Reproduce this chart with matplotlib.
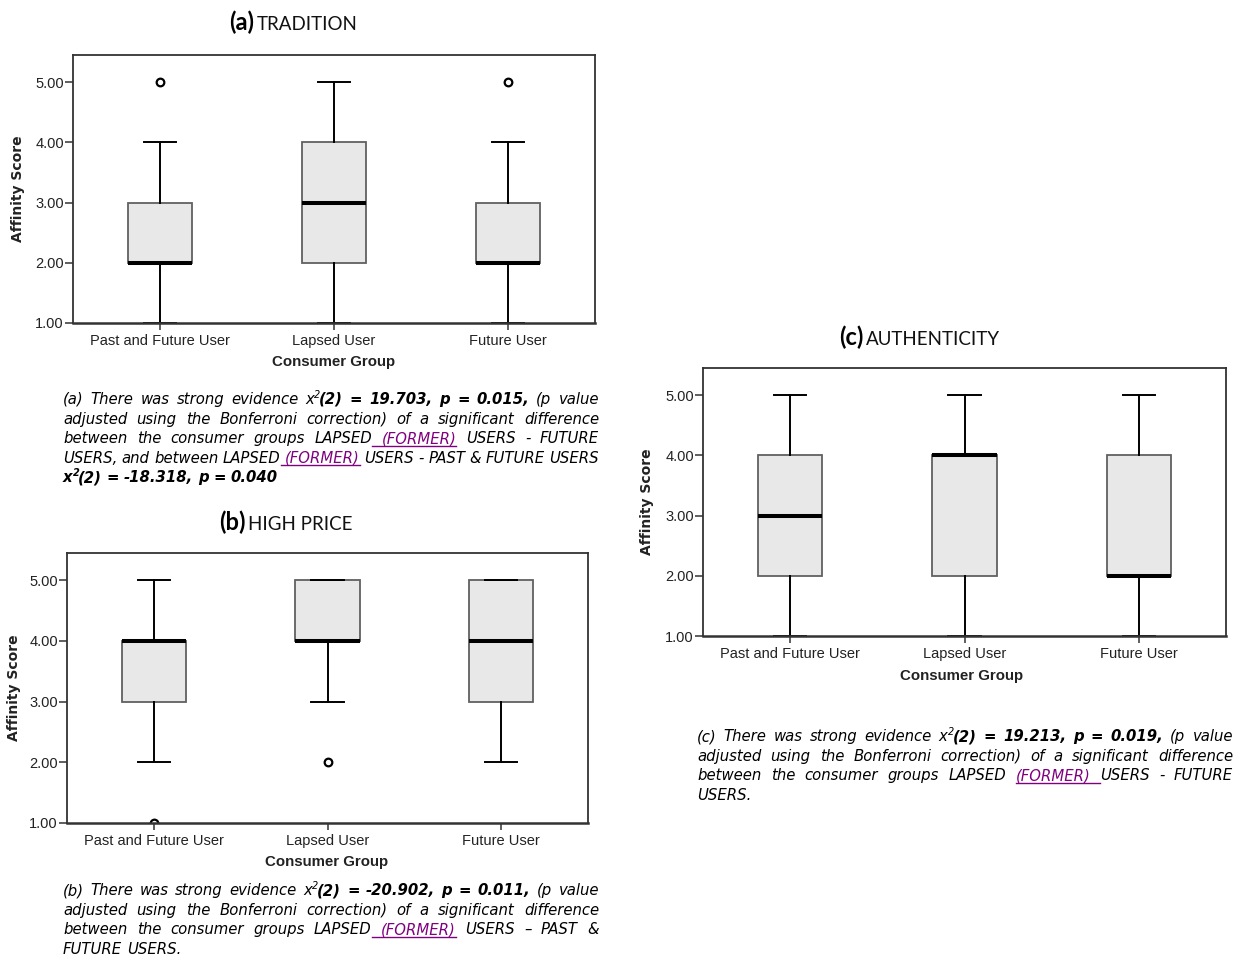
import matplotlib
matplotlib.use("Agg")
import matplotlib.pyplot as plt
from matplotlib.lines import Line2D

# ---------------- data ----------------
groups = ["Past and Future User", "Lapsed User", "Future User"]
y_ticks = [1, 2, 3, 4, 5]
y_tick_labels = ["1.00", "2.00", "3.00", "4.00", "5.00"]

# (a) TRADITION
trad_q1 = [2, 2, 2]
trad_med = [2, 3, 2]
trad_q3 = [3, 4, 3]
trad_lo = [1, 1, 1]
trad_hi = [4, 5, 4]
trad_fliers = [[5], [], [5]]

# (b) HIGH PRICE
price_q1 = [3, 4, 3]
price_med = [4, 4, 4]
price_q3 = [4, 5, 5]
price_lo = [2, 3, 2]
price_hi = [5, 5, 5]
price_fliers = [[1], [2], []]

# (c) AUTHENTICITY
auth_q1 = [2, 2, 2]
auth_med = [3, 4, 2]
auth_q3 = [4, 4, 4]
auth_lo = [1, 1, 1]
auth_hi = [5, 5, 5]
auth_fliers = [[], [], []]

W, H = 1238, 956
fig = plt.figure(figsize=(W / 100, H / 100), dpi=100)


def fx(x):
    return x / W


def fy(y):
    return 1 - y / H


TICK_FONT = "Liberation Sans"
CAP_FONT = "DejaVu Sans"
TITLE_FONT = "Lato"


def make_stats(q1, med, q3, lo, hi, fl):
    return [dict(q1=a, med=b, q3=c, whislo=d, whishi=e, fliers=f, label=g)
            for a, b, c, d, e, f, g in zip(q1, med, q3, lo, hi, fl, groups)]


def panel(box_px, stats, ylab_xy, xlab_xy):
    l, t, r, b = box_px
    ax = fig.add_axes([fx(l), fy(b), (r - l) / W, (b - t) / H])
    ax.bxp(stats, positions=[0, 1, 2], widths=0.37, capwidths=0.185,
           patch_artist=True, showfliers=True,
           boxprops=dict(facecolor="#e8e8e8", edgecolor="#606060", linewidth=1.3),
           medianprops=dict(color="black", linewidth=2.9, solid_capstyle="butt"),
           whiskerprops=dict(color="black", linewidth=1.4),
           capprops=dict(color="black", linewidth=1.4),
           flierprops=dict(marker="o", markerfacecolor="white", markeredgecolor="black",
                           markersize=5.5, markeredgewidth=1.6))
    ax.set_xlim(-0.5, 2.5)
    ax.set_ylim(1, 5.45)
    ax.set_yticks(y_ticks)
    ax.set_yticklabels(y_tick_labels, fontsize=10.5, family=TICK_FONT, color="#222222")
    ax.set_xticks([0, 1, 2])
    ax.set_xticklabels(groups, fontsize=10.5, family=TICK_FONT, color="#222222")
    ax.tick_params(axis="y", direction="out", length=6, width=1.1, pad=0.5, color="#333333")
    ax.tick_params(axis="x", direction="out", length=5, width=1.1, pad=3, color="#333333")
    for s in ax.spines.values():
        s.set_color("#333333")
        s.set_linewidth(1.3)
    ax.spines["bottom"].set_linewidth(1.8)
    fig.text(fx(ylab_xy[0]), fy(ylab_xy[1]), "Affinity Score", rotation=90,
             ha="center", va="center", fontsize=10, fontweight="bold",
             family="DejaVu Sans", color="#222222")
    fig.text(fx(xlab_xy[0]), fy(xlab_xy[1]), "Consumer Group",
             ha="center", va="center", fontsize=10.8, fontweight="bold",
             family=TICK_FONT, color="#222222")
    return ax


panel((73, 55, 595, 323),
      make_stats(trad_q1, trad_med, trad_q3, trad_lo, trad_hi, trad_fliers),
      (18, 189), (334, 362))
panel((67, 553, 588, 823),
      make_stats(price_q1, price_med, price_q3, price_lo, price_hi, price_fliers),
      (14, 688), (327, 862))
panel((703, 368, 1226, 636),
      make_stats(auth_q1, auth_med, auth_q3, auth_lo, auth_hi, auth_fliers),
      (647, 502), (962, 676))

fig.canvas.draw()
renderer = fig.canvas.get_renderer()


def measure(text, **kw):
    t = fig.text(0, 0, text, **kw)
    w = t.get_window_extent(renderer).width
    t.remove()
    return w


# ---------------- titles ----------------
def title(x_left, y_base, tag, name):
    fig.text(fx(x_left), fy(y_base), tag, fontsize=17, fontweight="bold",
             family=TITLE_FONT, ha="left", va="baseline", color="black")
    w = measure(tag, fontsize=17, fontweight="bold", family=TITLE_FONT)
    fig.text(fx(x_left + w + 3), fy(y_base), name, fontsize=13.5, family=TITLE_FONT,
             ha="left", va="baseline", color="#111111")


title(229, 30, "(a)", "TRADITION")
title(219, 530, "(b)", "HIGH PRICE")
title(839, 345, "(c)", "AUTHENTICITY")

# ---------------- justified captions ----------------
CAP_SIZE = 10.7
SUP_SIZE = 7.0
PURPLE = "#800080"


def piece_kw(st):
    kw = dict(family=CAP_FONT, fontstyle="italic", color="black")
    kw["fontsize"] = SUP_SIZE if "s" in st else CAP_SIZE
    if "b" in st:
        kw["fontweight"] = "bold"
    if "u" in st:
        kw["color"] = PURPLE
    return kw


def to_words(runs):
    words = [[]]
    for text, st in runs:
        parts = text.split(" ")
        for k, p in enumerate(parts):
            if k > 0:
                words.append([])
            if p:
                words[-1].append((p, st))
    return [w for w in words if w]


def caption(x0, x1, y0, dy, lines):
    space_w = measure("a a", **piece_kw("")) - 2 * measure("a", **piece_kw(""))
    for i, (runs, justify) in enumerate(lines):
        yb = y0 + i * dy
        words = to_words(runs)
        widths = [[measure(p, **piece_kw(st)) - (1.5 if "s" in st else 0) for p, st in w]
                  for w in words]
        totals = [sum(w) for w in widths]
        if justify and len(words) > 1:
            gap = (x1 - x0 - sum(totals)) / (len(words) - 1)
        else:
            gap = space_w
        x = x0
        for wi, (w, ws) in enumerate(zip(words, widths)):
            xs = x
            for (p, st), pw in zip(w, ws):
                yy = yb - 6 if "s" in st else yb
                fig.text(fx(x), fy(yy), p, ha="left", va="baseline", **piece_kw(st))
                x += pw
            if any("u" in st for _, st in w):
                ul0, ul1 = xs, x
                if any("<" in st for _, st in w):
                    ul0 = xs - gap
                if any(">" in st for _, st in w):
                    ul1 = x + gap
                fig.add_artist(Line2D([fx(ul0), fx(ul1)], [fy(yb + 2.5), fy(yb + 2.5)],
                                      color=PURPLE, linewidth=1.0,
                                      transform=fig.transFigure))
            x += gap


cap_a = [
    ([("(a) There was strong evidence x", ""), ("2", "s"),
      ("(2) = 19.703, p = 0.015,", "b"), (" (p value", "")], True),
    ([("adjusted using the Bonferroni correction) of a significant difference", "")], True),
    ([("between the consumer groups LAPSED ", ""), ("(FORMER)", "u<"),
      (" USERS - FUTURE", "")], True),
    ([("USERS, and between LAPSED ", ""), ("(FORMER)", "u<"),
      (" USERS - PAST & FUTURE USERS", "")], True),
    ([("x", "b"), ("2", "sb"), ("(2) = -18.318, p = 0.040", "b")], False),
]
cap_b = [
    ([("(b) There was strong evidence x", ""), ("2", "s"),
      ("(2) = -20.902, p = 0.011,", "b"), (" (p value", "")], True),
    ([("adjusted using the Bonferroni correction) of a significant difference", "")], True),
    ([("between the consumer groups LAPSED ", ""), ("(FORMER)", "u<"),
      (" USERS \u2013 PAST &", "")], True),
    ([("FUTURE USERS.", "")], False),
]
cap_c = [
    ([("(c) There was strong evidence x", ""), ("2", "s"),
      ("(2) = 19.213, p = 0.019,", "b"), (" (p value", "")], True),
    ([("adjusted using the Bonferroni correction) of a significant difference", "")], True),
    ([("between the consumer groups LAPSED ", ""), ("(FORMER)", "u>"),
      (" USERS - FUTURE", "")], True),
    ([("USERS.", "")], False),
]

caption(63, 599, 404, 19.6, cap_a)
caption(63, 599, 895, 19.6, cap_b)
caption(697, 1233, 741, 19.6, cap_c)

fig.savefig("out.png", dpi=100, facecolor="white")
